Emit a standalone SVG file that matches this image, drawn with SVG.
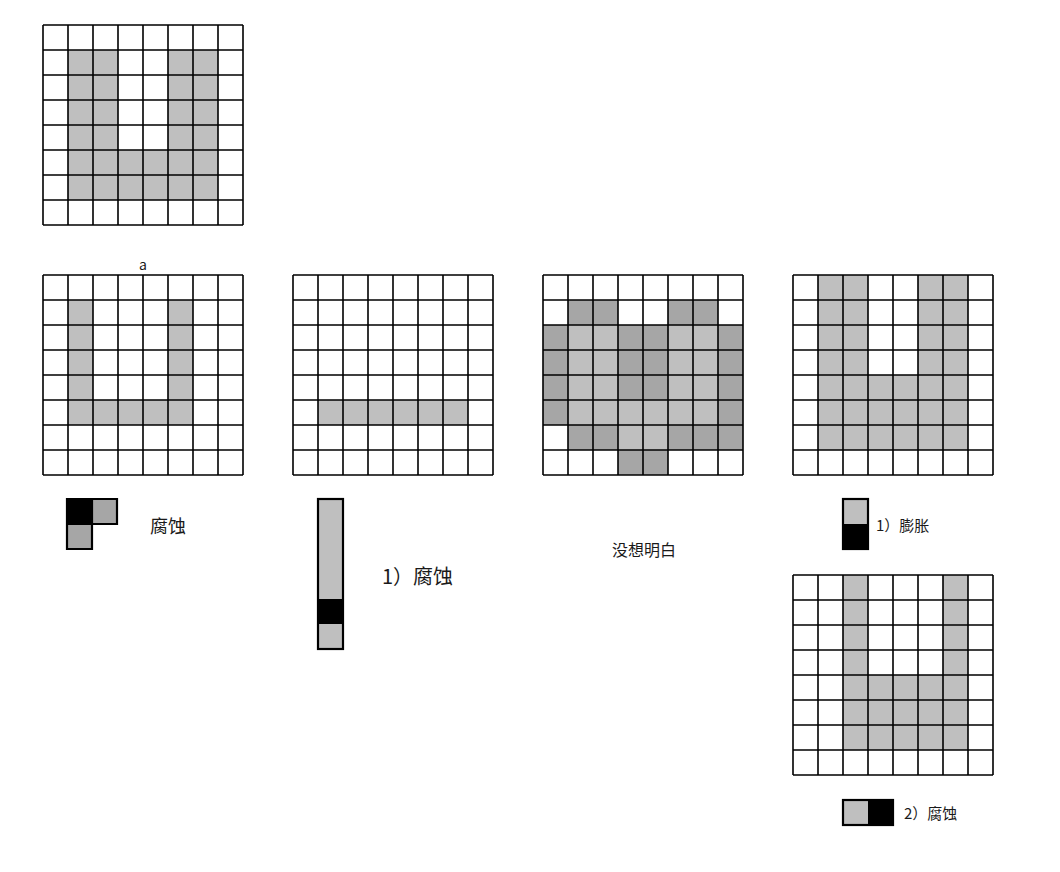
<svg xmlns="http://www.w3.org/2000/svg" xmlns:xlink="http://www.w3.org/1999/xlink" width="1060" height="872" viewBox="0 0 1060 872">
<style>
.L{fill:#bfbfbf}
.D{fill:#a6a6a6}
.K{fill:#000}
.gl{fill:none;stroke:#000;stroke-width:1.6}
.se{fill:none;stroke:#000;stroke-width:2.2}
.t{font-family:"Noto Sans CJK SC","Liberation Sans",sans-serif;fill:#1a1a1a}
</style>
<defs>
<path id="grid" class="gl" d="M0,0H200M0,25H200M0,50H200M0,75H200M0,100H200M0,125H200M0,150H200M0,175H200M0,200H200M0,0V200M25,0V200M50,0V200M75,0V200M100,0V200M125,0V200M150,0V200M175,0V200M200,0V200"/>
</defs>
<rect width="1060" height="872" fill="#fff"/>

<g id="grid-original" transform="translate(43,25)">
<rect class="L" x="25" y="25" width="50" height="100"/>
<rect class="L" x="125" y="25" width="50" height="100"/>
<rect class="L" x="25" y="125" width="150" height="50"/>
<use xlink:href="#grid"/>
</g>

<g id="grid-a" transform="translate(43,275)">
<rect class="L" x="25" y="25" width="25" height="100"/>
<rect class="L" x="125" y="25" width="25" height="100"/>
<rect class="L" x="25" y="125" width="125" height="25"/>
<use xlink:href="#grid"/>
</g>
<text class="t" x="143" y="270" font-size="14" text-anchor="middle">a</text>

<g id="grid-2" transform="translate(293,275)">
<rect class="L" x="25" y="125" width="150" height="25"/>
<use xlink:href="#grid"/>
</g>

<g id="grid-3" transform="translate(543,275)">
<rect class="D" x="25" y="25" width="50" height="25"/>
<rect class="D" x="125" y="25" width="50" height="25"/>
<rect class="D" x="0" y="50" width="25" height="100"/>
<rect class="D" x="175" y="50" width="25" height="125"/>
<rect class="L" x="25" y="50" width="50" height="100"/>
<rect class="D" x="75" y="50" width="50" height="75"/>
<rect class="L" x="125" y="50" width="50" height="100"/>
<rect class="L" x="75" y="125" width="50" height="50"/>
<rect class="D" x="25" y="150" width="50" height="25"/>
<rect class="D" x="125" y="150" width="50" height="25"/>
<rect class="D" x="75" y="175" width="50" height="25"/>
<use xlink:href="#grid"/>
</g>

<g id="grid-4" transform="translate(793,275)">
<rect class="L" x="25" y="0" width="50" height="100"/>
<rect class="L" x="125" y="0" width="50" height="100"/>
<rect class="L" x="25" y="100" width="150" height="75"/>
<use xlink:href="#grid"/>
</g>

<g id="grid-5" transform="translate(793,575)">
<rect class="L" x="50" y="0" width="25" height="100"/>
<rect class="L" x="150" y="0" width="25" height="100"/>
<rect class="L" x="50" y="100" width="125" height="75"/>
<use xlink:href="#grid"/>
</g>

<g id="se-1">
<rect class="K" x="67" y="499" width="25" height="25"/>
<rect class="D" x="92" y="499" width="25" height="25"/>
<rect class="D" x="67" y="524" width="25" height="25"/>
<path class="se" d="M67,499H117V524H92V549H67Z"/>
<path class="se" d="M92,499V524H67"/>
<text class="t" x="150" y="533" font-size="18">腐蚀</text>
</g>

<g id="se-2">
<rect class="L" x="318" y="499" width="25" height="100"/>
<rect class="K" x="318" y="599" width="25" height="25"/>
<rect class="L" x="318" y="624" width="25" height="25"/>
<rect class="se" x="318" y="499" width="25" height="150"/>
<text class="t" x="382" y="584" font-size="20">1）腐蚀</text>
</g>

<text id="note-3" class="t" x="644" y="556" font-size="16" text-anchor="middle">没想明白</text>

<g id="se-3">
<rect class="L" x="843" y="499" width="25" height="25"/>
<rect class="K" x="843" y="524" width="25" height="25"/>
<rect class="se" x="843" y="499" width="25" height="50"/>
<text class="t" x="876" y="531" font-size="15">1）膨胀</text>
</g>

<g id="se-4">
<rect class="L" x="843" y="800" width="25" height="25"/>
<rect class="K" x="868" y="800" width="25" height="25"/>
<rect class="se" x="843" y="800" width="50" height="25"/>
<text class="t" x="904" y="819" font-size="15">2）腐蚀</text>
</g>

<g id="connectors"/>
</svg>
